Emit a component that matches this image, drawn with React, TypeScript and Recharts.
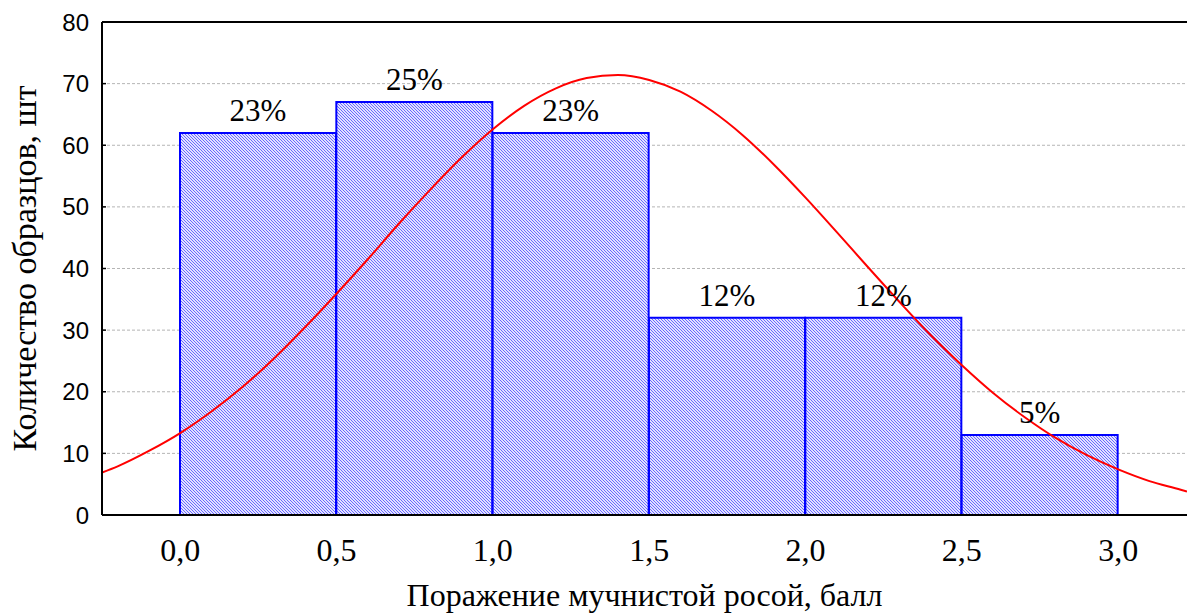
import { ComposedChart, Bar, Line, XAxis, YAxis, CartesianGrid, LabelList } from 'recharts';

// histogram bins (score ranges) and counts
const BINS = ['0,0–0,5', '0,5–1,0', '1,0–1,5', '1,5–2,0', '2,0–2,5', '2,5–3,0'];
const COUNTS = [62, 67, 62, 32, 32, 13];
const PERCENTS = ['23%', '25%', '23%', '12%', '12%', '5%'];

// fitted normal curve
const CURVE_X = [-0.25, -0.2, -0.1, 0, 0.1, 0.2, 0.3, 0.4, 0.5, 0.6, 0.7, 0.8, 0.9, 1.0, 1.1, 1.2, 1.3, 1.4,
    1.5, 1.6, 1.7, 1.8, 1.9, 2.0, 2.1, 2.2, 2.3, 2.4, 2.5, 2.6, 2.7, 2.8, 2.9, 3.0, 3.1, 3.2, 3.22];
const CURVE_Y = [6.9, 7.9, 10.4, 13.3, 16.8, 20.8, 25.4, 30.5, 35.9, 41.5, 47.3, 52.8, 58.0, 62.6, 66.4, 69.2, 70.9, 71.4,
    70.6, 68.7, 65.6, 61.6, 56.8, 51.5, 45.9, 40.2, 34.6, 29.2, 24.3, 19.8, 15.9, 12.5, 9.7, 7.4, 5.5, 4.1, 3.8];

const X_TICKS = [0, 0.5, 1, 1.5, 2, 2.5, 3];
const Y_TICKS = [0, 10, 20, 30, 40, 50, 60, 70, 80];

const barData = BINS.map((bin, i) => ({ bin, count: COUNTS[i], pct: PERCENTS[i] }));
const curveData = CURVE_X.map((x, i) => ({ x, y: CURVE_Y[i] }));

const SERIF = '"Liberation Serif", "Times New Roman", serif';
const SANS = '"Liberation Sans", Arial, sans-serif';

export default function App() {
    return (
        <div style={{ position: 'absolute', left: 0, top: 0, background: '#fff' }}>
            <ComposedChart
                width={1187}
                height={614}
                data={barData}
                margin={{ top: 0, right: 0, bottom: 0, left: 42 }}
                barCategoryGap={0}
            >
                <defs>
                    <pattern id="hatch" patternUnits="userSpaceOnUse" width="3" height="3">
                        <rect width="3" height="3" fill="#e2e2ff" />
                        <path d="M-1,-1 L4,4 M-1,2 L1,4 M2,-1 L4,1" stroke="#5c5cff" strokeWidth="0.9" />
                    </pattern>
                </defs>
                <CartesianGrid
                    yAxisId="y"
                    xAxisId="x"
                    vertical={false}
                    stroke="#b5b5b5"
                    strokeDasharray="3 2"
                />
                <XAxis
                    xAxisId="x"
                    type="number"
                    dataKey="x"
                    domain={[-0.25, 3.22]}
                    ticks={X_TICKS}
                    allowDataOverflow
                    tickFormatter={(v: number) => v.toFixed(1).replace('.', ',')}
                    tickLine={false}
                    tickMargin={17}
                    axisLine={{ stroke: '#000', strokeWidth: 2 }}
                    tick={{ fill: '#000', fontFamily: SERIF, fontSize: 32 }}
                    height={99}
                    label={{
                        value: 'Поражение мучнистой росой, балл',
                        position: 'insideBottom',
                        offset: 8,
                        fill: '#000',
                        fontFamily: SERIF,
                        fontSize: 32,
                    }}
                />
                <XAxis xAxisId="bins" dataKey="bin" type="category" hide height={0} padding={{ left: 78, right: 69 }} />
                <XAxis
                    xAxisId="top"
                    orientation="top"
                    type="number"
                    domain={[-0.25, 3.22]}
                    ticks={X_TICKS}
                    allowDataOverflow
                    height={22}
                    tick={false}
                    tickSize={-5}
                    tickLine={{ stroke: '#000', strokeWidth: 1.5 }}
                    axisLine={{ stroke: '#000', strokeWidth: 2 }}
                />
                <YAxis
                    yAxisId="y"
                    domain={[0, 80]}
                    ticks={Y_TICKS}
                    width={60}
                    tickSize={-4}
                    tickMargin={17}
                    tickLine={{ stroke: '#000', strokeWidth: 1.5 }}
                    axisLine={{ stroke: '#000', strokeWidth: 2 }}
                    tick={{ fill: '#000', fontFamily: SANS, fontSize: 24 }}
                    label={{
                        value: 'Количество образцов, шт',
                        angle: -90,
                        position: 'center',
                        dx: -48,
                        fill: '#000',
                        fontFamily: SERIF,
                        fontSize: 34,
                    }}
                />
                <Bar
                    xAxisId="bins"
                    yAxisId="y"
                    dataKey="count"
                    fill="url(#hatch)"
                    stroke="#0000ff"
                    strokeWidth={2}
                    isAnimationActive={false}
                >
                    <LabelList
                        dataKey="pct"
                        position="top"
                        offset={12}
                        fill="#000"
                        fontFamily={SERIF}
                        fontSize={31}
                    />
                </Bar>
                <Line
                    xAxisId="x"
                    yAxisId="y"
                    data={curveData}
                    dataKey="y"
                    type="monotone"
                    stroke="#ff0000"
                    strokeWidth={2}
                    dot={false}
                    activeDot={false}
                    isAnimationActive={false}
                />
            </ComposedChart>
        </div>
    );
}
